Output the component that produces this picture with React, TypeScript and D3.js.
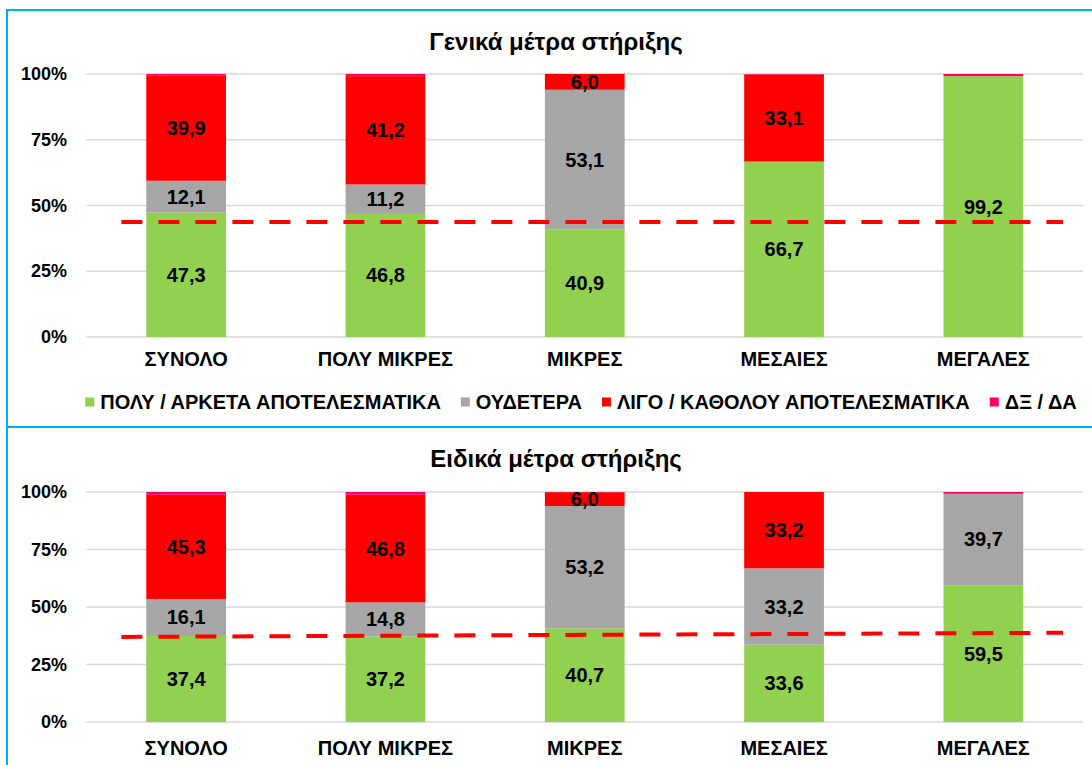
import { useRef, useEffect } from 'react';
import * as d3 from 'd3';

// categories (company size) and the four answer groups
const categories = ['ΣΥΝΟΛΟ', 'ΠΟΛΥ ΜΙΚΡΕΣ', 'ΜΙΚΡΕΣ', 'ΜΕΣΑΙΕΣ', 'ΜΕΓΑΛΕΣ'];
const seriesNames = ['ΠΟΛΥ / ΑΡΚΕΤΑ ΑΠΟΤΕΛΕΣΜΑΤΙΚΑ', 'ΟΥΔΕΤΕΡΑ', 'ΛΙΓΟ / ΚΑΘΟΛΟΥ ΑΠΟΤΕΛΕΣΜΑΤΙΚΑ', 'ΔΞ / ΔΑ'];
const seriesColors = ['#92D050', '#A6A6A6', '#FF0000', '#FF0066'];
const yTicks = [0, 25, 50, 75, 100];

// Γενικά μέτρα στήριξης
const generalEffective = [47.3, 46.8, 40.9, 66.7, 99.2];
const generalNeutral = [12.1, 11.2, 53.1, 0, 0];
const generalIneffective = [39.9, 41.2, 6.0, 33.1, 0];
const generalDontKnow = [0.7, 0.8, 0, 0.2, 0.8];
const generalAverage = [43.7, 43.7]; // dashed line, start / end

// Ειδικά μέτρα στήριξης
const specialEffective = [37.4, 37.2, 40.7, 33.6, 59.5];
const specialNeutral = [16.1, 14.8, 53.2, 33.2, 39.7];
const specialIneffective = [45.3, 46.8, 6.0, 33.2, 0];
const specialDontKnow = [1.2, 1.2, 0.1, 0, 0.8];
const specialAverage = [37.0, 38.8];

const FONT = '"Liberation Sans", Arial, sans-serif';
const W = 1092;
const H = 765;

const panels = [
  {
    title: 'Γενικά μέτρα στήριξης',
    series: [generalEffective, generalNeutral, generalIneffective, generalDontKnow],
    average: generalAverage,
    box: { y0: 10, y1: 427 },
    titleY: 41, plotTop: 74, plotBottom: 337, catY: 359, legendY: 402
  },
  {
    title: 'Ειδικά μέτρα στήριξης',
    series: [specialEffective, specialNeutral, specialIneffective, specialDontKnow],
    average: specialAverage,
    box: { y0: 427, y1: 830 },
    titleY: 458, plotTop: 492, plotBottom: 722, catY: 748, legendY: null
  }
];

const fmt = (v: number) => d3.format('.1f')(v).replace('.', ',');

export default function App() {
  const svgRef = useRef<SVGSVGElement>(null);

  useEffect(() => {
    const svg = d3.select(svgRef.current);
    svg.selectAll('*').remove();

    svg.append('rect').attr('width', W).attr('height', H).attr('fill', '#fff');

    const x = d3.scaleBand<string>()
      .domain(categories)
      .range([86.5, 1083])
      .paddingInner(0.6)
      .paddingOuter(0.3);
    const step = x.step();

    panels.forEach(function (p) {
      const y = d3.scaleLinear().domain([0, 100]).range([p.plotBottom, p.plotTop]);
      const g = svg.append('g');

      // frame
      g.append('rect')
        .attr('x', 7).attr('y', p.box.y0)
        .attr('width', 1100).attr('height', p.box.y1 - p.box.y0)
        .attr('fill', 'none').attr('stroke', '#00B0F0').attr('stroke-width', 2);

      g.append('text')
        .attr('x', 556).attr('y', p.titleY)
        .attr('text-anchor', 'middle').attr('dominant-baseline', 'central')
        .attr('font-family', FONT).attr('font-weight', 'bold').attr('font-size', 24)
        .text(p.title);

      // gridlines + y labels
      yTicks.forEach(function (t) {
        g.append('line')
          .attr('x1', 86.5).attr('x2', 1083)
          .attr('y1', y(t)).attr('y2', y(t))
          .attr('stroke', '#D9D9D9').attr('stroke-width', 1.5);
        g.append('text')
          .attr('x', 67).attr('y', y(t))
          .attr('text-anchor', 'end').attr('dominant-baseline', 'central')
          .attr('font-family', FONT).attr('font-weight', 'bold').attr('font-size', 18)
          .text(t + '%');
      });

      const rows = categories.map(function (c, i) {
        const r: any = { cat: c };
        seriesNames.forEach(function (s, k) { r[s] = p.series[k][i]; });
        return r;
      });
      const stacked = d3.stack().keys(seriesNames)(rows);

      stacked.forEach(function (layer, k) {
        g.append('g').selectAll('rect')
          .data(layer)
          .join('rect')
          .attr('x', function (d: any) { return x(d.data.cat) as number; })
          .attr('width', x.bandwidth())
          .attr('y', function (d) { return y(d[1]); })
          .attr('height', function (d) { return Math.max(0, y(d[0]) - y(d[1])); })
          .attr('fill', seriesColors[k]);
      });

      // value labels (not for ΔΞ/ΔΑ or empty segments)
      stacked.slice(0, 3).forEach(function (layer) {
        g.append('g').selectAll('text')
          .data(layer.filter(function (d) { return d[1] - d[0] >= 3; }))
          .join('text')
          .attr('x', function (d: any) { return (x(d.data.cat) as number) + x.bandwidth() / 2; })
          .attr('y', function (d) { return y((d[0] + d[1]) / 2); })
          .attr('text-anchor', 'middle').attr('dominant-baseline', 'central')
          .attr('font-family', FONT).attr('font-weight', 'bold').attr('font-size', 20)
          .text(function (d) { return fmt(d[1] - d[0]); });
      });

      // dashed average line
      const lx0 = (x(categories[0]) as number) + x.bandwidth() / 2 - step * 0.325;
      const lx1 = (x(categories[categories.length - 1]) as number) + x.bandwidth() / 2 + step * 0.4;
      const lx = d3.scaleLinear().domain([0, p.average.length - 1]).range([lx0, lx1]);
      const line = d3.line<number>()
        .x(function (d, i) { return lx(i); })
        .y(function (d) { return y(d); });
      g.append('path')
        .attr('d', line(p.average))
        .attr('fill', 'none').attr('stroke', '#FF0000')
        .attr('stroke-width', 4).attr('stroke-dasharray', '21,16');

      // category labels
      g.selectAll('text.cat')
        .data(categories)
        .join('text')
        .attr('class', 'cat')
        .attr('x', function (d) { return (x(d) as number) + x.bandwidth() / 2; })
        .attr('y', p.catY)
        .attr('text-anchor', 'middle').attr('dominant-baseline', 'central')
        .attr('font-family', FONT).attr('font-weight', 'bold').attr('font-size', 20)
        .text(function (d) { return d; });

      // legend
      if (p.legendY != null) {
        const lg = g.append('g');
        let cx = 0;
        seriesNames.forEach(function (s, k) {
          lg.append('rect')
            .attr('x', cx).attr('y', (p.legendY as number) - 4.5)
            .attr('width', 9).attr('height', 9)
            .attr('fill', seriesColors[k]);
          const t = lg.append('text')
            .attr('x', cx + 15).attr('y', p.legendY)
            .attr('dominant-baseline', 'central')
            .attr('font-family', FONT).attr('font-weight', 'bold').attr('font-size', 20)
            .text(s);
          const tw = (t.node() as SVGTextElement).getComputedTextLength();
          cx += 15 + tw + 20;
        });
        const total = cx - 20;
        lg.attr('transform', 'translate(' + (581 - total / 2) + ',0)');
      }
    });
  }, []);

  return (
    <svg
      ref={svgRef}
      width={W}
      height={H}
      style={{ position: 'absolute', left: 0, top: 0, display: 'block' }}
    />
  );
}
